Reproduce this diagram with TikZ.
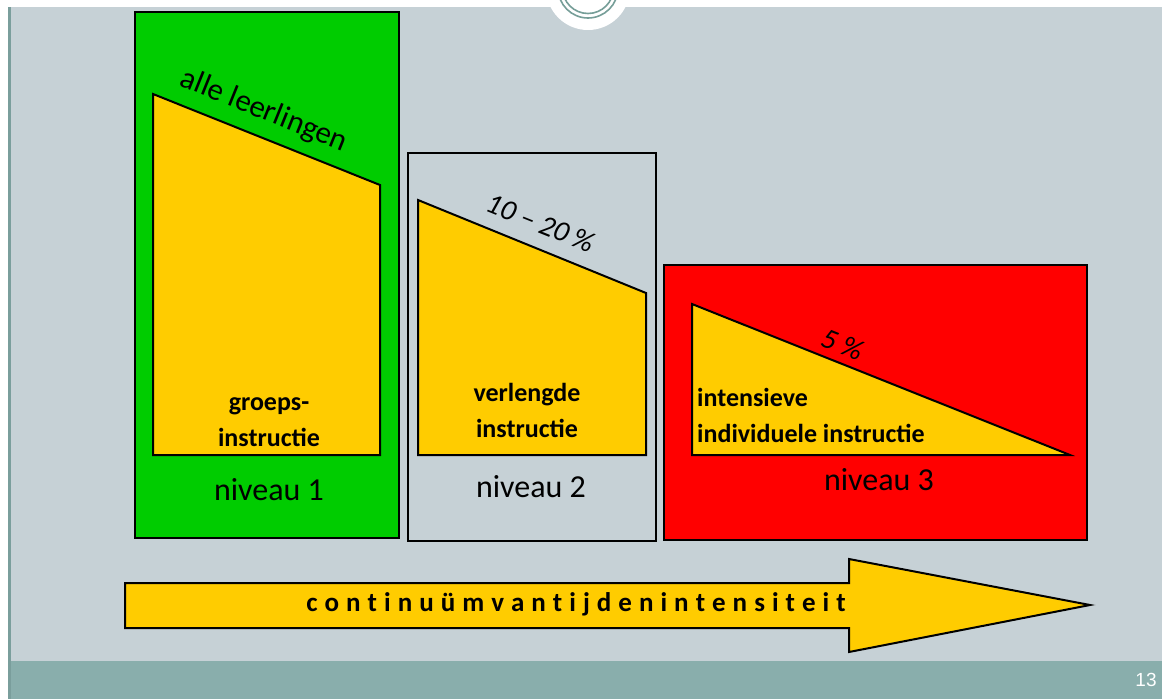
\documentclass[tikz,border=0pt]{standalone}
\usepackage{fontspec}
\setmainfont{Carlito}
\newfontfamily\numfont{Liberation Sans}
\usetikzlibrary{positioning}
\definecolor{slidegray}{RGB}{198,209,214}
\definecolor{barteal}{RGB}{137,174,172}
\definecolor{edgeteal}{RGB}{122,158,156}
\definecolor{ringteal}{RGB}{118,158,152}
\definecolor{lvlgreen}{RGB}{0,204,0}
\definecolor{lvlred}{RGB}{255,0,0}
\definecolor{wedgeyellow}{RGB}{255,204,0}
\begin{document}
\begin{tikzpicture}[x=1pt, y=-1pt,
    every node/.style={inner sep=0pt},
    lvlbox/.style={draw=black, line width=2.2pt},
    wedge/.style={draw=black, line width=2pt, fill=wedgeyellow, line join=miter},
    slope/.style={rotate=-22, font=\fontsize{31}{36}\selectfont},
    pct/.style={rotate=-22, font=\itshape\fontsize{29}{34}\selectfont},
    task/.style={font=\bfseries\fontsize{26}{36}\selectfont, align=center},
    level/.style={font=\fontsize{32}{38}\selectfont}]
    \useasboundingbox (0,0) rectangle (1162,699);
    \fill[white] (0,0) rectangle (1162,699);
    \fill[slidegray] (8,7) rectangle (1162,661);
    \fill[barteal] (8,661) rectangle (1162,699);
    \fill[edgeteal] (8,7) rectangle (10.5,699);
    \fill[white] (588,-12) circle (42);
    \draw[ringteal, line width=1.6pt] (588,-12) circle (30) (588,-12) circle (25.5);

    \draw[lvlbox, fill=lvlgreen] (135,12) rectangle (399,538);
    \draw[lvlbox, line width=1.5pt] (408,153) rectangle (656,541);
    \draw[lvlbox, fill=lvlred] (664,265) rectangle (1087,540);

    \draw[wedge] (153,94) -- (380,185) -- (380,455) -- (153,455) -- cycle;
    \draw[wedge] (418,200) -- (646,293) -- (646,455) -- (418,455) -- cycle;
    \draw[wedge] (692,304) -- (1070,455) -- (692,455) -- cycle;
    \draw[wedge] (125,583) -- (849,583) -- (849,559) -- (1090,605) -- (849,652) -- (849,628) -- (125,628) -- cycle;

    \node[slope] (all) at (264,111) {alle leerlingen};
    \node[pct] (some) at (541,223) {10 – 20 \%};
    \node[pct] (few) at (843,344) {5 \%};

    \node[task] (group) at (269,422) {groeps-\\instructie};
    \node[task] (extra) at (527,410) {verlengde\\instructie};
    \node[task, align=left, anchor=west] (indiv) at (697,415) {intensieve\\individuele instructie};

    \node[level] (lvl1) at (269,490) {niveau 1};
    \node[level] (lvl2) at (531,487) {niveau 2};
    \node[level] (lvl3) at (879,480) {niveau 3};

    \node[font=\bfseries\fontsize{27}{30}\selectfont] (scale) at (576,604)
        {\spaceskip=0.26em\relax c o n t i n u ü m v a n t i j d e n i n t e n s i t e i t};
    \node[font=\numfont\fontsize{19}{22}\selectfont, text=white] (page) at (1146,680) {13};
\end{tikzpicture}
\end{document}
